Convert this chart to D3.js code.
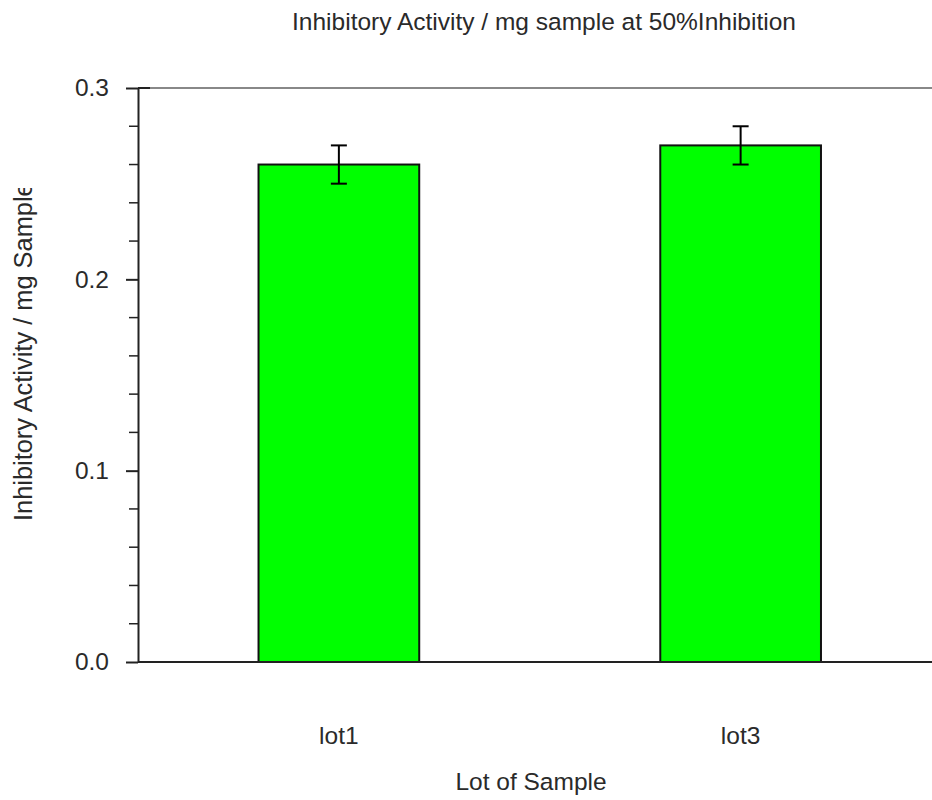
<!DOCTYPE html>
<html>
<head>
<meta charset="utf-8">
<script src="https://cdn.jsdelivr.net/npm/d3@7"></script>
<style>
  html, body { margin: 0; padding: 0; background: #fff; }
  svg { display: block; }
  text { font-family: "Liberation Sans", Arial, sans-serif; fill: #2a2a2a; }
</style>
</head>
<body>
<svg id="chart" width="932" height="800"></svg>
<script>
// Sample lots and their inhibitory activity (mean and +/- error)
const lots = ["lot1", "lot3"];
const activity = [0.26, 0.27];
const errors = [0.01, 0.01];
const yTicks = [0.0, 0.1, 0.2, 0.3];
const yMinorTicks = [0.02, 0.04, 0.06, 0.08, 0.12, 0.14, 0.16, 0.18, 0.22, 0.24, 0.26, 0.28];

const FONT = "Liberation Sans, Arial, sans-serif";
const FS = 24.5;

const svg = d3.select("#chart");
const plotLeft = 138, plotRight = 941.5, plotTop = 88, plotBottom = 662;

const x = d3.scaleBand().domain(lots).range([plotLeft, plotRight]).paddingInner(0.6).paddingOuter(0.3);
const y = d3.scaleLinear().domain([0, 0.3]).range([plotBottom, plotTop]);

// top frame line
svg.append("line")
  .attr("x1", plotLeft).attr("x2", 932)
  .attr("y1", y(0.3)).attr("y2", y(0.3))
  .attr("stroke", "#888").attr("stroke-width", 2);

// bars
svg.selectAll("rect.bar").data(lots).join("rect")
  .attr("class", "bar")
  .attr("x", d => x(d))
  .attr("width", x.bandwidth())
  .attr("y", (d, i) => y(activity[i]))
  .attr("height", (d, i) => y(0) - y(activity[i]))
  .attr("fill", "#00ff00")
  .attr("stroke", "#111")
  .attr("stroke-width", 2);

// error bars
const eb = svg.selectAll("g.err").data(lots).join("g")
  .attr("class", "err")
  .attr("transform", d => `translate(${x(d) + x.bandwidth() / 2},0)`);
eb.append("line")
  .attr("y1", (d, i) => y(activity[i] + errors[i]))
  .attr("y2", (d, i) => y(activity[i] - errors[i]))
  .attr("stroke", "#000").attr("stroke-width", 2);
eb.append("line")
  .attr("x1", -8).attr("x2", 8)
  .attr("y1", (d, i) => y(activity[i] + errors[i]))
  .attr("y2", (d, i) => y(activity[i] + errors[i]))
  .attr("stroke", "#000").attr("stroke-width", 2);
eb.append("line")
  .attr("x1", -8).attr("x2", 8)
  .attr("y1", (d, i) => y(activity[i] - errors[i]))
  .attr("y2", (d, i) => y(activity[i] - errors[i]))
  .attr("stroke", "#000").attr("stroke-width", 2);

// x axis baseline
svg.append("line")
  .attr("x1", plotLeft).attr("x2", 932)
  .attr("y1", y(0)).attr("y2", y(0))
  .attr("stroke", "#222").attr("stroke-width", 2);

// y axis with major ticks
const yAxis = d3.axisLeft(y).tickValues(yTicks).tickFormat(d3.format(".1f"))
  .tickSize(12).tickPadding(17).tickSizeOuter(0);
const gy = svg.append("g").attr("transform", `translate(${plotLeft},0)`).call(yAxis)
  .attr("font-size", FS).attr("font-family", FONT);
gy.select(".domain").attr("stroke", "#222").attr("stroke-width", 2);
gy.selectAll(".tick line").attr("stroke", "#222").attr("stroke-width", 2);
gy.selectAll(".tick text").attr("fill", "#2a2a2a");

// top tick extends slightly into the plot
svg.append("line")
  .attr("x1", plotLeft).attr("x2", 150)
  .attr("y1", y(0.3)).attr("y2", y(0.3))
  .attr("stroke", "#222").attr("stroke-width", 2);

// minor ticks
svg.selectAll("line.minor").data(yMinorTicks).join("line")
  .attr("class", "minor")
  .attr("x1", plotLeft - 9).attr("x2", plotLeft)
  .attr("y1", d => y(d)).attr("y2", d => y(d))
  .attr("stroke", "#222").attr("stroke-width", 1.5);

// category labels
svg.selectAll("text.cat").data(lots).join("text")
  .attr("class", "cat")
  .attr("x", d => x(d) + x.bandwidth() / 2)
  .attr("y", 744)
  .attr("text-anchor", "middle")
  .attr("font-size", FS)
  .text(d => d);

// title
svg.append("text")
  .attr("x", 544).attr("y", 30)
  .attr("text-anchor", "middle")
  .attr("font-size", FS)
  .text("Inhibitory Activity / mg sample at 50%Inhibition");

// x axis title
svg.append("text")
  .attr("x", 531).attr("y", 790)
  .attr("text-anchor", "middle")
  .attr("font-size", FS)
  .text("Lot of Sample");

// y axis title, clipped at its upper end
svg.append("clipPath").attr("id", "ylabClip")
  .append("rect").attr("x", 0).attr("y", 188).attr("width", 60).attr("height", 400);
svg.append("g")
  .attr("clip-path", "url(#ylabClip)")
  .append("text")
  .attr("transform", "translate(32,521) rotate(-90)")
  .attr("text-anchor", "start")
  .attr("font-size", 25.4)
  .text("Inhibitory Activity / mg Sample");
</script>
</body>
</html>
